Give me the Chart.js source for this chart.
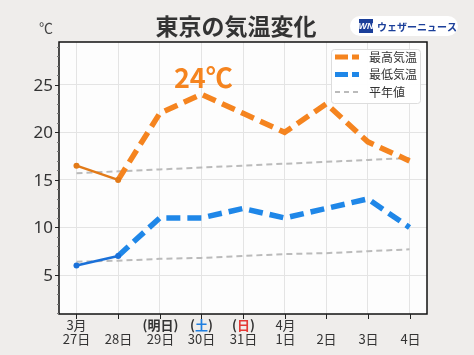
<!DOCTYPE html>
<html><head><meta charset="utf-8">
<script src="https://cdn.jsdelivr.net/npm/chart.js@4"></script>
<style>
html,body{margin:0;padding:0;background:#efedeb;}
#wrap{position:relative;width:474px;height:355px;}
</style></head>
<body><div id="wrap"><canvas id="c" width="474" height="355"></canvas></div>
<script>
const days = ['27日','28日','29日','30日','31日','1日','2日','3日','4日'];
const topLabels = ['3月','','(明日)','(土)','(日)','4月','','',''];
const highs = [16.5,15,22,24,22,20,23,19,17];
const lows = [6,7,11,11,12,11,12,13,10];
const normalHighs = [15.7,15.9,16.1,16.3,16.5,16.7,16.9,17.1,17.3];
const normalLows = [6.4,6.5,6.7,6.8,7.0,7.2,7.3,7.5,7.7];
const yTicks = [5,10,15,20,25];
const observedCount = 2;
const peakLabel = '24℃';
const peakIndex = 3;

const FONT = '"Noto Sans CJK JP","Noto Sans",sans-serif';
const pts = arr => arr.map((v,i)=>({x:i,y:v}));
const obs = arr => arr.map((v,i)=>({x:i,y:i<observedCount?v:null}));
const fc = arr => arr.map((v,i)=>({x:i,y:i>=observedCount-1?v:null}));

const bgPlugin = {
  id:'bg',
  beforeDraw(chart){
    const {ctx,chartArea:a}=chart;
    ctx.save();
    ctx.fillStyle='#efedeb';ctx.fillRect(0,0,chart.width,chart.height);
    ctx.fillStyle='#fdfdfd';ctx.fillRect(a.left,a.top,a.right-a.left,a.bottom-a.top);
    ctx.restore();
  },
  afterDraw(chart){
    const {ctx,chartArea:a,scales}=chart;
    const xs=scales.x, ys=scales.y;
    ctx.save();
    ctx.strokeStyle='#111';ctx.lineWidth=1.5;
    ctx.strokeRect(a.left,a.top,a.right-a.left,a.bottom-a.top);
    ctx.lineWidth=1;
    for(let v=1;v<=29;v++){
      const y=Math.round(ys.getPixelForValue(v))+0.5;
      const major=v%5===0;
      ctx.strokeStyle=major?'#222':'#777';
      const len = major?4:2;
      ctx.beginPath();ctx.moveTo(a.left-len,y);ctx.lineTo(a.left,y);ctx.stroke();
    }
    ctx.fillStyle='#333';ctx.font='17px "Noto Sans",sans-serif';
    ctx.textAlign='right';ctx.textBaseline='middle';
    yTicks.forEach(v=>ctx.fillText(String(v),53,ys.getPixelForValue(v)+1));
    ctx.strokeStyle='#222';
    days.forEach((d,i)=>{
      const x=Math.round(xs.getPixelForValue(i))+0.5;
      ctx.beginPath();ctx.moveTo(x,a.bottom);ctx.lineTo(x,a.bottom+5);ctx.stroke();
      ctx.textAlign='center';ctx.textBaseline='middle';
      ctx.font='13px '+FONT;ctx.fillStyle='#333';
      ctx.fillText(d,x,339);
      const t=topLabels[i];
      if(t){
        if(t.startsWith('(')){
          ctx.font='bold 13px '+FONT;
          const inner=t.slice(1,-1);
          const wP=ctx.measureText('(').width, wI=ctx.measureText(inner).width, wC=ctx.measureText(')').width;
          let sx=x-(wP+wI+wC)/2;
          ctx.textAlign='left';
          ctx.fillStyle='#333';ctx.fillText('(',sx,325);
          ctx.fillStyle= inner==='土'?'#1f7fe0':(inner==='日'?'#e53935':'#333');
          ctx.fillText(inner,sx+wP,325);
          ctx.fillStyle='#333';ctx.fillText(')',sx+wP+wI,325);
        } else {
          ctx.fillText(t,x,325);
        }
      }
    });
    ctx.font='bold 27px '+FONT;ctx.fillStyle='#f5841f';
    ctx.textAlign='center';ctx.textBaseline='alphabetic';
    ctx.fillText(peakLabel,xs.getPixelForValue(peakIndex)+2,ys.getPixelForValue(highs[peakIndex])-6);
    const lx=331,ly=49,lw=89,lh=54;
    ctx.fillStyle='rgba(255,255,255,0.95)';ctx.strokeStyle='#ddd';ctx.lineWidth=1;
    ctx.beginPath();ctx.roundRect(lx+0.5,ly+0.5,lw,lh,3);ctx.fill();ctx.stroke();
    const rows=[['最高気温','#f5841f',5,[13,4,6,0]],['最低気温','#1f87e8',5,[13,4,6,0]],['平年値','#bbb',2,[5,4]]];
    rows.forEach((r,k)=>{
      const y=ly+8+k*17.5;
      ctx.strokeStyle=r[1];ctx.lineWidth=r[2];ctx.setLineDash(r[3]);ctx.lineCap='butt';
      ctx.beginPath();ctx.moveTo(335,y);ctx.lineTo(359,y);ctx.stroke();
      ctx.setLineDash([]);
      ctx.fillStyle='#333';ctx.font='12px '+FONT;ctx.textAlign='left';ctx.textBaseline='middle';
      ctx.fillText(r[0],369,y);
    });
    ctx.fillStyle='#333';ctx.font='bold 23px '+FONT;ctx.textAlign='center';ctx.textBaseline='middle';
    ctx.fillText('東京の気温変化',236,26);
    ctx.fillStyle='#444';ctx.font='14px '+FONT;ctx.fillText('℃',46,28);
    ctx.fillStyle='#fff';ctx.beginPath();ctx.roundRect(350,16,108,20,10);ctx.fill();
    ctx.fillStyle='#1b3f9a';ctx.fillRect(359,19,14,14);
    ctx.fillStyle='#fff';ctx.font='italic bold 9px "Liberation Sans",sans-serif';
    ctx.fillText('WN',366,27);
    ctx.fillStyle='#1b3f9a';ctx.font='bold 10px '+FONT;ctx.textAlign='left';
    ctx.fillText('ウェザーニュース',377,27);
    ctx.restore();
  }
};

new Chart(document.getElementById('c'),{
  type:'line',
  data:{datasets:[
    {data:pts(normalHighs),borderColor:'#bbb',borderWidth:2,borderDash:[6,4],pointRadius:0,order:5},
    {data:pts(normalLows),borderColor:'#bbb',borderWidth:2,borderDash:[6,4],pointRadius:0,order:5},
    {data:fc(highs),borderColor:'#f5841f',borderWidth:5.5,borderDash:[14,7],pointRadius:0,order:2,spanGaps:false},
    {data:fc(lows),borderColor:'#1f87e8',borderWidth:5.5,borderDash:[14,7],pointRadius:0,order:2,spanGaps:false},
    {data:obs(highs),borderColor:'#e27a18',backgroundColor:'#e27a18',borderWidth:2.5,pointRadius:3,pointBorderWidth:0,order:1},
    {data:obs(lows),borderColor:'#1a70d8',backgroundColor:'#1a70d8',borderWidth:2.5,pointRadius:3,pointBorderWidth:0,order:1}
  ]},
  options:{
    responsive:false,animation:false,
    layout:{padding:{left:59,right:47,top:42,bottom:41}},
    plugins:{legend:{display:false},tooltip:{enabled:false},title:{display:false}},
    elements:{line:{tension:0,borderJoinStyle:'miter'}},
    scales:{
      x:{type:'linear',min:-0.42,max:8.42,
        afterBuildTicks:s=>{s.ticks=days.map((d,i)=>({value:i}));},
        ticks:{display:false},grid:{color:'#e4e4e4',drawTicks:false,lineWidth:1},border:{display:false}},
      y:{type:'linear',min:0.9,max:29.5,
        afterBuildTicks:s=>{s.ticks=yTicks.map(v=>({value:v}));},
        ticks:{display:false},grid:{color:'#e4e4e4',drawTicks:false,lineWidth:1},border:{display:false}}
    }
  },
  plugins:[bgPlugin]
});
</script></body></html>
